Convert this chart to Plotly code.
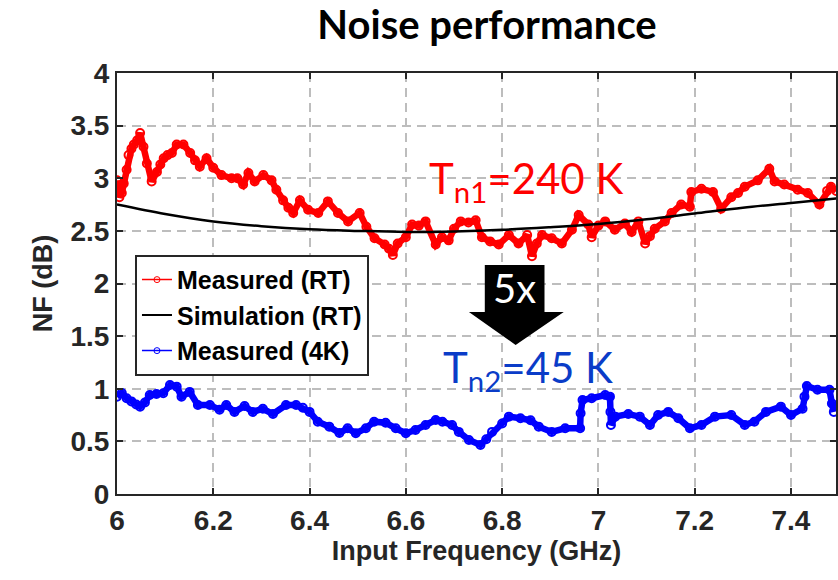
import plotly.graph_objects as go

# ---------------- data ----------------
rt_freq = [6.000, 6.005, 6.010, 6.014, 6.020, 6.024, 6.030, 6.035, 6.042, 6.048, 6.055, 6.062,
           6.072, 6.083, 6.090, 6.097, 6.105, 6.114, 6.124, 6.138, 6.152, 6.162, 6.172, 6.186,
           6.200, 6.217, 6.238, 6.250, 6.262, 6.273, 6.286, 6.304, 6.321, 6.331, 6.345, 6.356,
           6.366, 6.380, 6.397, 6.418, 6.438, 6.459, 6.480, 6.504, 6.518, 6.535, 6.556, 6.565,
           6.573, 6.583, 6.600, 6.613, 6.627, 6.641, 6.662, 6.675, 6.689, 6.700, 6.714, 6.730,
           6.745, 6.758, 6.775, 6.793, 6.814, 6.834, 6.852, 6.862, 6.872, 6.883, 6.903, 6.924,
           6.945, 6.959, 6.979, 6.986, 7.000, 7.014, 7.034, 7.055, 7.069, 7.083, 7.097, 7.107,
           7.117, 7.138, 7.152, 7.172, 7.190, 7.193, 7.214, 7.238, 7.255, 7.276, 7.290, 7.304,
           7.331, 7.355, 7.366, 7.386, 7.414, 7.435, 7.459, 7.475, 7.483, 7.494]
rt_nf = [2.98, 2.82, 2.86, 2.95, 3.08, 3.22, 3.28, 3.32, 3.36, 3.43, 3.30, 3.14,
         2.97, 3.06, 3.13, 3.19, 3.22, 3.24, 3.32, 3.32, 3.24, 3.17, 3.11, 3.19,
         3.10, 3.03, 3.00, 3.00, 2.94, 3.05, 2.97, 3.03, 2.98, 2.89, 2.79, 2.72,
         2.67, 2.79, 2.70, 2.67, 2.78, 2.67, 2.59, 2.67, 2.54, 2.43, 2.37, 2.33,
         2.27, 2.38, 2.44, 2.56, 2.55, 2.59, 2.37, 2.44, 2.41, 2.52, 2.59, 2.58,
         2.60, 2.44, 2.40, 2.37, 2.46, 2.38, 2.46, 2.26, 2.38, 2.46, 2.43, 2.38,
         2.51, 2.65, 2.56, 2.44, 2.55, 2.59, 2.51, 2.57, 2.49, 2.59, 2.38, 2.45,
         2.52, 2.59, 2.67, 2.75, 2.73, 2.87, 2.90, 2.87, 2.71, 2.82, 2.86, 2.92,
         2.98, 3.09, 2.97, 2.94, 2.89, 2.86, 2.75, 2.88, 2.92, 2.88]

sim_freq = [6.0, 6.1, 6.2, 6.3, 6.4, 6.5, 6.6, 6.7, 6.8, 6.9, 7.0, 7.1, 7.2, 7.3, 7.4, 7.5]
sim_nf = [2.75, 2.66, 2.59, 2.545, 2.515, 2.50, 2.49, 2.495, 2.51, 2.535, 2.565, 2.61, 2.665,
          2.72, 2.765, 2.81]

k4_freq = [6.000, 6.010, 6.020, 6.030, 6.040, 6.048, 6.058, 6.068, 6.082, 6.096, 6.110, 6.124,
           6.134, 6.151, 6.168, 6.193, 6.213, 6.227, 6.244, 6.265, 6.282, 6.303, 6.324, 6.351,
           6.372, 6.386, 6.400, 6.417, 6.441, 6.462, 6.479, 6.496, 6.517, 6.534, 6.558, 6.579,
           6.600, 6.620, 6.641, 6.662, 6.676, 6.696, 6.710, 6.731, 6.755, 6.767, 6.779, 6.800,
           6.814, 6.838, 6.859, 6.876, 6.903, 6.931, 6.962, 6.963, 6.967, 6.986, 7.014, 7.024,
           7.025, 7.026, 7.035, 7.062, 7.086, 7.107, 7.124, 7.145, 7.166, 7.190, 7.214, 7.242,
           7.276, 7.304, 7.324, 7.348, 7.379, 7.400, 7.424, 7.428, 7.433, 7.455, 7.480, 7.485,
           7.489]
k4_nf = [0.925, 0.96, 0.91, 0.88, 0.85, 0.83, 0.87, 0.94, 0.95, 0.957, 1.035, 1.02,
         0.925, 0.97, 0.846, 0.846, 0.80, 0.846, 0.78, 0.836, 0.78, 0.81, 0.76, 0.846,
         0.846, 0.82, 0.78, 0.687, 0.64, 0.58, 0.624, 0.577, 0.624, 0.687, 0.677, 0.624,
         0.577, 0.608, 0.656, 0.703, 0.687, 0.656, 0.59, 0.513, 0.466, 0.52, 0.59, 0.67,
         0.735, 0.72, 0.70, 0.64, 0.59, 0.624, 0.624, 0.767, 0.893, 0.91, 0.94, 0.925,
         0.78, 0.656, 0.735, 0.76, 0.735, 0.656, 0.75, 0.78, 0.72, 0.624, 0.656, 0.735,
         0.75, 0.656, 0.687, 0.78, 0.83, 0.75, 0.81, 0.925, 1.026, 0.99, 0.99, 0.86,
         0.78]

x_ticks = [6.0, 6.2, 6.4, 6.6, 6.8, 7.0, 7.2, 7.4]
x_tick_labels = ["6", "6.2", "6.4", "6.6", "6.8", "7", "7.2", "7.4"]
y_ticks = [0, 0.5, 1, 1.5, 2, 2.5, 3, 3.5, 4]
y_tick_labels = ["0", "0.5", "1", "1.5", "2", "2.5", "3", "3.5", "4"]

series_names = ["Measured (RT)", "Simulation (RT)", "Measured (4K)"]

RED = "#ff0000"
BLUE = "#0000ff"
AX = "#262626"

fig = go.Figure()

# data traces (dense marker look)
fig.add_trace(go.Scatter(x=rt_freq, y=rt_nf, mode="lines+markers", showlegend=False,
                         line=dict(color=RED, width=6.5),
                         marker=dict(symbol="circle-open", size=8, color=RED, line=dict(width=2))))
fig.add_trace(go.Scatter(x=sim_freq, y=sim_nf, mode="lines", showlegend=False,
                         line=dict(color="black", width=2.5, shape="spline")))
fig.add_trace(go.Scatter(x=k4_freq, y=k4_nf, mode="lines+markers", showlegend=False,
                         line=dict(color=BLUE, width=6.5),
                         marker=dict(symbol="circle-open", size=8, color=BLUE, line=dict(width=2))))

# legend-only traces
fig.add_trace(go.Scatter(x=[None], y=[None], mode="lines+markers", name=series_names[0],
                         line=dict(color=RED, width=1.5),
                         marker=dict(symbol="circle-open", size=6, color=RED)))
fig.add_trace(go.Scatter(x=[None], y=[None], mode="lines", name=series_names[1],
                         line=dict(color="black", width=2)))
fig.add_trace(go.Scatter(x=[None], y=[None], mode="lines+markers", name=series_names[2],
                         line=dict(color=BLUE, width=1.5),
                         marker=dict(symbol="circle-open", size=6, color=BLUE)))

# 5x arrow
fig.add_shape(type="path", xref="x", yref="y",
              path="M 6.764,2.176 L 6.888,2.176 L 6.888,1.729 L 6.928,1.729 L 6.828,1.416 "
                   "L 6.731,1.729 L 6.764,1.729 Z",
              fillcolor="black", line=dict(width=0))
fig.add_annotation(x=6.826, y=1.96, xref="x", yref="y", text="5x", showarrow=False,
                   font=dict(family="Lato", size=40, color="white"))

fig.add_annotation(x=6.644, y=2.97, xref="x", yref="y", xanchor="left", yanchor="middle",
                   text="T<sub>n1</sub>=240 K", showarrow=False,
                   font=dict(family="Lato", size=42, color=RED))
fig.add_annotation(x=6.673, y=1.18, xref="x", yref="y", xanchor="left", yanchor="middle",
                   text="T<sub>n2</sub>=45 K", showarrow=False,
                   font=dict(family="Lato", size=42, color="#0a3cc8"))

axis_common = dict(showline=True, linecolor=AX, linewidth=2, mirror="ticks",
                   ticks="inside", ticklen=6, tickwidth=2, tickcolor=AX,
                   showgrid=True, gridcolor="#bdbdbd", gridwidth=2, griddash="9px,6px",
                   zeroline=False,
                   tickfont=dict(family="Liberation Sans", size=28, color=AX, weight="bold"))

fig.update_xaxes(range=[6, 7.4935], tickvals=x_ticks, ticktext=x_tick_labels,
                 title=dict(text="<b>Input Frequency (GHz)</b>",
                            font=dict(family="Liberation Sans", size=27, color=AX), standoff=6),
                 **axis_common)
fig.update_yaxes(range=[0, 4], tickvals=y_ticks, ticktext=y_tick_labels,
                 title=dict(text="<b>NF (dB)</b>",
                            font=dict(family="Liberation Sans", size=27, color=AX), standoff=10),
                 **axis_common)

fig.update_layout(
    width=838, height=580,
    margin=dict(l=117, r=0, t=73, b=86),
    paper_bgcolor="white", plot_bgcolor="white",
    title=dict(text="<b>Noise performance</b>", xref="container", x=487 / 838, xanchor="center",
               yref="container", y=1 - 25 / 580, yanchor="middle",
               font=dict(family="Lato", size=40, color="black")),
    legend=dict(x=0.025, y=0.568, xanchor="left", yanchor="top",
                bgcolor="white", bordercolor=AX, borderwidth=2,
                font=dict(family="Liberation Sans", size=25, color="black", weight="bold"),
                tracegroupgap=0, itemwidth=30),
    showlegend=True,
)

fig.write_html("out.html")
